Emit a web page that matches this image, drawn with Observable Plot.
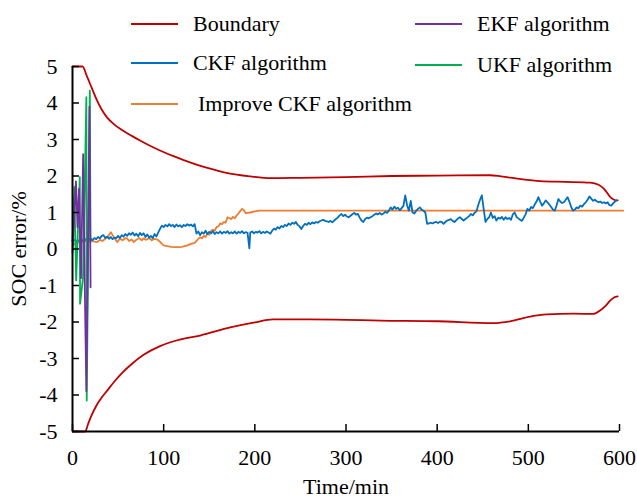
<!DOCTYPE html>
<html>
<head>
<meta charset="utf-8">
<script src="https://cdn.jsdelivr.net/npm/d3@7"></script>
<script src="https://cdn.jsdelivr.net/npm/@observablehq/plot@0.6"></script>
<style>
  html, body { margin: 0; padding: 0; background: #fff; }
  #wrap { position: relative; width: 637px; height: 501px; font-family: "Liberation Serif", "Times New Roman", serif; }
  .leg { position: absolute; display: flex; align-items: center; font-size: 22px; color: #000; white-space: nowrap; }
  .leg .sw { display: inline-block; width: 47px; height: 0; border-top: 2px solid; }
</style>
</head>
<body>
<div id="wrap"></div>
<script>
// ---- data ----
const xTicks = [0, 100, 200, 300, 400, 500, 600];
const yTicks = [-5, -4, -3, -2, -1, 0, 1, 2, 3, 4, 5];

const seriesNames = ["Boundary", "CKF algorithm", "Improve CKF algorithm", "EKF algorithm", "UKF algorithm"];
const seriesColors = ["#c00000", "#0070c0", "#ed7d31", "#7030a0", "#00b050"];

const upperTime = [0, 11, 16, 21, 26, 32, 38, 45, 53, 65, 75, 85, 96, 110, 125, 148, 170, 195, 217, 250, 300, 350, 400, 458, 470, 490, 513, 540, 568, 577, 583, 590, 594, 598];
const upperSoc  = [5, 5, 4.72, 4.42, 4.12, 3.82, 3.6, 3.43, 3.28, 3.1, 2.96, 2.83, 2.7, 2.55, 2.41, 2.22, 2.08, 1.99, 1.94, 1.95, 1.97, 2.0, 2.01, 2.02, 1.99, 1.92, 1.86, 1.84, 1.82, 1.76, 1.65, 1.42, 1.35, 1.33];

const lowerTime = [0, 14, 17, 21, 26, 32, 38, 46, 55, 65, 78, 96, 115, 140, 173, 200, 220, 260, 300, 338, 400, 462, 480, 502, 520, 550, 571, 579, 585, 590, 594, 598];
const lowerSoc  = [-5, -5, -4.8, -4.55, -4.3, -4.07, -3.88, -3.63, -3.38, -3.15, -2.9, -2.66, -2.5, -2.37, -2.15, -2.01, -1.93, -1.93, -1.94, -1.96, -1.98, -2.03, -1.98, -1.85, -1.79, -1.77, -1.78, -1.68, -1.55, -1.41, -1.33, -1.3];

const ckfTime = [0,2,4,6,8,10,12,14,16,18,20,22,24,26,28,30,32,34,36,38,40,42,44,46,48,50,52,54,56,58,60,62,64,66,68,70,72,74,76,78,80,82,84,86,88,90,92,94,96,98,100,102,104,106,108,110,112,114,116,118,120,122,124,126,128,130,132,134,136,138,140,142,144,146,148,150,152,154,156,158,160,162,164,166,168,170,172,174,176,178,180,182,184,186,188,190,192,194,195,197,199,201,203,205,207,209,211,213,215,217,219,221,223,225,227,229,231,233,235,237,239,241,243,245,247,249,251,253,255,257,259,261,263,265,267,269,271,273,275,277,279,281,283,285,287,289,291,293,295,297,299,301,303,305,307,309,311,313,315,317,319,321,323,325,327,329,331,333,335,337,339,341,343,345,347,349,351,353,355,357,359,361,363,365,367,369,371,373,375,377,379,381,383,385,387,389,391,393,395,397,399,401,403,405,407,409,411,413,415,417,419,421,423,425,427,429,431,433,435,437,439,441,443,445,447,449,451,453,455,457,459,461,463,465,467,469,471,473,475,477,479,481,483,485,487,489,491,493,495,497,499,501,503,505,507,509,511,513,515,517,519,521,523,525,527,529,531,533,535,537,539,541,543,545,547,549,551,553,555,557,559,561,563,565,567,569,571,573,575,577,579,581,583,585,587,589,591,593,595,597];
const ckfSoc = [0.22,0.25,0.2,0.24,0.21,0.25,0.22,0.27,0.22,0.26,0.29,0.24,0.3,0.27,0.33,0.29,0.36,0.38,0.3,0.34,0.28,0.33,0.27,0.31,0.3,0.36,0.3,0.38,0.34,0.41,0.36,0.43,0.39,0.45,0.37,0.42,0.35,0.44,0.38,0.43,0.33,0.4,0.31,0.36,0.3,0.41,0.34,0.45,0.55,0.64,0.6,0.66,0.62,0.68,0.63,0.66,0.6,0.67,0.62,0.65,0.6,0.66,0.63,0.68,0.64,0.67,0.62,0.68,0.42,0.48,0.38,0.46,0.42,0.5,0.41,0.47,0.43,0.49,0.41,0.46,0.43,0.48,0.42,0.47,0.44,0.49,0.42,0.46,0.43,0.48,0.42,0.47,0.44,0.49,0.43,0.46,0.44,0.02,0.45,0.48,0.43,0.47,0.45,0.49,0.43,0.47,0.44,0.48,0.45,0.42,0.5,0.56,0.53,0.6,0.56,0.63,0.6,0.66,0.63,0.7,0.66,0.72,0.69,0.74,0.66,0.62,0.55,0.63,0.69,0.66,0.72,0.68,0.73,0.7,0.74,0.72,0.76,0.78,0.8,0.77,0.76,0.74,0.77,0.73,0.78,0.82,0.86,0.92,0.96,0.9,0.94,0.89,0.87,0.91,0.95,0.99,0.94,0.96,0.86,0.78,0.74,0.82,0.86,0.84,0.87,0.9,0.94,0.97,0.95,0.99,0.94,0.97,1.02,0.99,1.05,1.14,1.08,1.16,1.1,1.13,1.06,1.12,1.18,1.47,1.2,1.05,1.32,1.0,0.97,1.05,1.1,1.14,1.08,1.05,1.0,0.69,0.7,0.72,0.7,0.73,0.74,0.71,0.75,0.74,0.69,0.74,0.78,0.8,0.82,0.77,0.74,0.79,0.84,0.87,0.82,0.78,0.82,0.86,0.9,0.96,0.92,0.99,1.03,1.2,1.35,1.47,1.1,0.74,0.82,0.87,1.0,0.85,0.9,0.78,0.86,0.83,0.88,0.8,0.87,0.82,0.85,0.8,0.95,1.0,0.88,0.84,0.8,0.77,0.86,0.95,1.1,1.05,1.15,1.12,1.22,1.3,1.42,1.3,1.19,1.25,1.33,1.28,1.22,1.15,1.08,1.05,1.2,1.37,1.3,1.26,1.28,1.35,1.42,1.3,1.15,1.05,1.08,1.14,1.12,1.19,1.16,1.23,1.28,1.35,1.44,1.38,1.32,1.35,1.31,1.28,1.3,1.26,1.28,1.25,1.28,1.2,1.19,1.25,1.3,1.33];

const improveTime = [0,3,6,9,12,15,18,20,23,27,30,33,36,39,42,44,46,49,52,55,58,60,62,65,67,70,73,76,78,81,84,87,90,93,96,98,100,104,108,112,116,120,122,126,130,134,136,138,140,142,144,146,148,150,152,154,156,158,160,162,164,166,168,170,172,174,176,178,180,182,184,186,188,190,195,200,205,604];
const improveSoc  = [0.1,0.15,0.18,0.19,0.2,0.22,0.2,0.23,0.21,0.19,0.25,0.22,0.28,0.35,0.46,0.38,0.3,0.19,0.28,0.24,0.3,0.29,0.22,0.26,0.19,0.25,0.3,0.24,0.29,0.25,0.3,0.24,0.28,0.26,0.2,0.14,0.1,0.08,0.06,0.05,0.05,0.06,0.07,0.1,0.14,0.17,0.22,0.28,0.32,0.29,0.36,0.33,0.42,0.39,0.5,0.53,0.5,0.6,0.62,0.7,0.68,0.74,0.72,0.87,0.85,0.82,0.88,0.84,0.92,0.97,1.04,1.1,1.06,0.98,1.0,1.03,1.05,1.05];

const ekfTime = [0, 3.8, 5.5, 7.2, 9.3, 11.7, 13.3, 15.2, 18.6, 19.8];
const ekfSoc  = [-0.1, 1.85, 0.6, 1.65, -0.8, 2.6, -0.75, -3.9, 3.9, -1.05];

const ukfTime = [0, 2, 4, 8, 8.3, 11.5, 15.2, 15.6, 19, 19.8];
const ukfSoc  = [0.2, 1.7, -0.86, 1.97, -1.5, -0.8, 4.16, -4.15, 4.34, 0.2];

// ---- build ----
const zip = (t, v) => t.map((d, i) => ({t: d, v: v[i]}));
const sw = 1.8;

const chart = Plot.plot({
  width: 637,
  height: 501,
  marginLeft: 72,
  marginRight: 18,
  marginTop: 66,
  marginBottom: 70,
  x: {domain: [0, 600]},
  y: {domain: [-5, 5]},
  style: {fontFamily: "Liberation Serif", fontSize: "22px", color: "#000", background: "transparent", overflow: "visible"},
  marks: [
    Plot.line(zip(upperTime, upperSoc), {x: "t", y: "v", stroke: seriesColors[0], strokeWidth: sw, curve: "monotone-x"}),
    Plot.line(zip(lowerTime, lowerSoc), {x: "t", y: "v", stroke: seriesColors[0], strokeWidth: sw, curve: "monotone-x"}),
    Plot.line(zip(improveTime, improveSoc), {x: "t", y: "v", stroke: seriesColors[2], strokeWidth: sw}),
    Plot.line(zip(ckfTime, ckfSoc), {x: "t", y: "v", stroke: seriesColors[1], strokeWidth: sw}),
    Plot.line(zip(ukfTime, ukfSoc), {x: "t", y: "v", stroke: seriesColors[4], strokeWidth: sw}),
    Plot.line(zip(ekfTime, ekfSoc), {x: "t", y: "v", stroke: seriesColors[3], strokeWidth: sw}),
    Plot.ruleX([0], {stroke: "#000", strokeWidth: 2}),
    Plot.ruleY([-5], {stroke: "#000", strokeWidth: 2}),
    Plot.axisX({ticks: xTicks, tickSize: -7, tickPadding: 25, tickFormat: d => String(d), label: "Time/min", labelAnchor: "center", labelOffset: 62, labelArrow: "none", strokeWidth: 1.5}),
    Plot.axisY({ticks: yTicks, tickSize: -7, tickPadding: 22, tickFormat: d => String(d), label: "SOC error/%", labelAnchor: "center", labelOffset: 62, labelArrow: "none", strokeWidth: 1.5})
  ]
});

const wrap = document.getElementById("wrap");
wrap.appendChild(chart);

// legend (HTML overlay)
const legendPos = [
  {left: 131, top: 24, gap: 15},
  {left: 131, top: 63, gap: 15},
  {left: 131, top: 104, gap: 20},
  {left: 415, top: 24, gap: 15},
  {left: 415, top: 65, gap: 15}
];
seriesNames.forEach((name, i) => {
  const p = legendPos[i];
  const div = document.createElement("div");
  div.className = "leg";
  div.style.left = p.left + "px";
  div.style.top = (p.top - 14) + "px";
  div.style.height = "28px";
  const s = document.createElement("span");
  s.className = "sw";
  s.style.borderTopColor = seriesColors[i];
  s.style.marginRight = p.gap + "px";
  div.appendChild(s);
  const t = document.createElement("span");
  t.textContent = name;
  div.appendChild(t);
  wrap.appendChild(div);
});
</script>
</body>
</html>
